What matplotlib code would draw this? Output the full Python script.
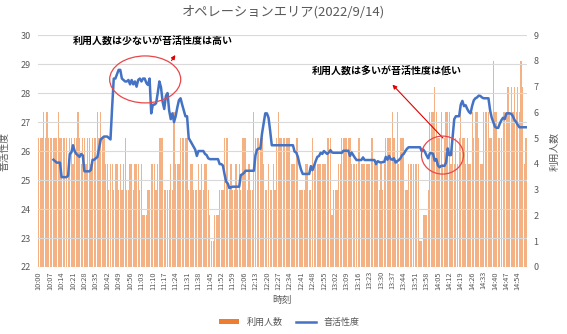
import numpy as np
import matplotlib
matplotlib.use("Agg")
import matplotlib.pyplot as plt
from matplotlib.patches import Ellipse, Patch
from matplotlib.lines import Line2D

plt.rcParams['font.family'] = ['Noto Sans CJK JP', 'DejaVu Sans']

# minutes from 10:00 (one category per minute)
minutes = list(range(300))
tick_minutes = list(range(0, 300, 7))
tick_labels = [f"{10 + m // 60}:{m % 60:02d}" for m in tick_minutes]

# 利用人数 (count per minute)
users = [
    5, 5, 5, 6, 5, 6, 5, 5, 5, 5,
    5, 5, 6, 5, 5, 5, 5, 5, 4, 5,
    5, 4, 5, 5, 6, 5, 4, 5, 5, 4,
    5, 5, 4, 5, 5, 5, 6, 5, 6, 5,
    5, 4, 4, 3, 4, 4, 3, 4, 4, 3,
    4, 3, 4, 5, 3, 3, 4, 4, 3, 4,
    4, 4, 3, 4, 2, 2, 2, 3, 3, 4,
    4, 4, 3, 4, 5, 5, 5, 3, 3, 3,
    3, 4, 3, 6, 4, 4, 4, 5, 5, 5,
    5, 5, 3, 4, 4, 3, 3, 3, 4, 3,
    4, 3, 4, 4, 3, 2, 1, 1, 2, 2,
    2, 3, 3, 3, 5, 5, 5, 3, 4, 3,
    3, 4, 3, 4, 3, 5, 5, 5, 3, 4,
    3, 3, 6, 5, 5, 5, 5, 5, 4, 3,
    3, 4, 3, 3, 4, 3, 5, 6, 5, 5,
    5, 5, 5, 5, 5, 4, 4, 4, 5, 5,
    3, 3, 3, 3, 4, 4, 3, 3, 5, 4,
    4, 4, 4, 4, 4, 4, 4, 5, 5, 5,
    2, 3, 3, 3, 4, 4, 5, 5, 5, 5,
    5, 5, 4, 4, 4, 4, 5, 5, 4, 4,
    4, 4, 4, 4, 5, 5, 4, 4, 4, 3,
    4, 3, 4, 5, 5, 5, 5, 6, 5, 4,
    6, 4, 5, 5, 5, 3, 3, 4, 4, 4,
    4, 4, 4, 4, 1, 1, 2, 2, 2, 3,
    6, 6, 6, 7, 6, 5, 5, 6, 4, 5,
    6, 6, 6, 4, 5, 4, 5, 4, 5, 6,
    5, 5, 4, 5, 4, 4, 6, 5, 6, 6,
    5, 4, 4, 6, 6, 6, 6, 5, 5, 8,
    6, 6, 5, 5, 5, 6, 6, 6, 7, 6,
    7, 6, 7, 6, 7, 6, 8, 7, 4, 5,
]

# 音活性度 (starts at 10:09)
nan = np.nan
activity = [
    nan, nan, nan, nan, nan, nan, nan, nan, nan, 25.7,
    25.65, 25.6, 25.6, 25.6, 25.1, 25.1, 25.1, 25.1, 25.15, 25.9,
    25.95, 26.2, 26.0, 25.9, 25.85, 25.8, 25.9, 25.85, 25.3, 25.3,
    25.3, 25.3, 25.35, 25.7, 25.7, 25.75, 25.8, 26.1, 26.4, 26.45,
    26.5, 26.5, 26.5, 26.45, 26.4, 27.5, 28.5, 28.5, 28.65, 28.8,
    28.8, 28.5, 28.45, 28.4, 28.4, 28.45, 28.3, 28.45, 28.3, 28.4,
    28.22, 28.45, 28.5, 28.4, 28.5, 28.5, 28.35, 28.28, 28.5, 27.3,
    27.6, 27.6, 27.65, 28.0, 28.4, 28.2, 27.7, 27.45, 27.9, 28.0,
    27.4, 27.1, 27.3, 27.0, 27.2, 27.5, 27.75, 27.82, 27.6, 27.4,
    27.2, 27.2, 26.45, 26.35, 26.25, 26.15, 26.05, 25.83, 26.0, 26.0,
    26.0, 26.0, 25.9, 25.86, 25.75, 25.72, 25.72, 25.72, 25.72, 25.72,
    25.72, 25.55, 25.55, 25.5, 25.2, 24.94, 24.88, 24.72, 24.75, 24.77,
    24.77, 24.77, 24.77, 24.77, 25.17, 25.2, 25.25, 25.32, 25.32, 25.32,
    25.32, 25.32, 25.32, 25.86, 26.05, 26.09, 26.08, 26.6, 26.95, 27.3,
    27.3, 27.15, 26.7, 26.2, 26.2, 26.2, 26.2, 26.2, 26.2, 26.2,
    26.2, 26.2, 26.2, 26.2, 26.2, 26.2, 26.2, 25.98, 25.95, 25.8,
    25.55, 25.35, 25.21, 25.21, 25.21, 25.21, 25.21, 25.48, 25.34, 25.5,
    25.66, 25.8, 25.83, 25.94, 25.9, 26.0, 25.95, 25.9, 25.95, 26.03,
    25.95, 25.94, 25.94, 25.94, 25.94, 25.94, 25.94, 26.01, 26.01, 26.01,
    26.01, 25.83, 25.95, 25.86, 25.77, 25.69, 25.69, 25.69, 25.69, 25.78,
    25.69, 25.69, 25.69, 25.69, 25.69, 25.69, 25.69, 25.55, 25.65, 25.62,
    25.6, 25.62, 25.62, 25.8, 25.7, 25.83, 25.72, 25.7, 25.75, 25.6,
    25.65, 25.69, 25.75, 25.86, 25.9, 26.0, 26.08, 26.13, 26.13, 26.13,
    26.13, 26.13, 26.13, 26.13, 26.13, 26.0, 26.05, 25.97, 25.85, 25.75,
    25.92, 25.93, 25.9, 25.67, 25.72, 25.5, 25.44, 25.49, 25.49, 25.49,
    25.6, 26.09, 25.86, 25.86, 26.5, 27.1, 27.2, 27.2, 27.2, 27.6,
    27.73, 27.55, 27.58, 27.45, 27.35, 27.3, 27.56, 27.75, 27.82, 27.85,
    27.91, 27.9, 27.85, 27.82, 27.82, 27.82, 27.82, 27.41, 27.15, 27.0,
    26.84, 26.8, 26.8, 26.95, 27.07, 27.15, 27.1, 27.3, 27.3, 27.3,
    27.28, 27.2, 27.07, 27.0, 26.9, 26.82, 26.82, 26.82, 26.82, 26.82,
]

gray = '#595959'
bar_color = '#F4B183'
line_color = '#4472C4'

fig = plt.figure(figsize=(5.67, 3.34), dpi=100)
ax_bar = fig.add_axes([0.067, 0.2006, 0.862, 0.6944])
ax_line = ax_bar.twinx()

# bars on the right axis
ax_bar.bar(minutes, users, width=0.75, color=bar_color, linewidth=0)
ax_bar.set_ylim(0, 9)
ax_bar.set_yticks(range(0, 10))
ax_bar.yaxis.tick_right()
ax_bar.yaxis.set_label_position('right')
ax_bar.set_xlim(-0.5, 299.5)
ax_bar.set_xticks(tick_minutes)
ax_bar.set_xticklabels(tick_labels, rotation=90, fontsize=5.3, color=gray)
ax_bar.set_xlabel('時刻', fontsize=7, color=gray, labelpad=4)

# line on the left axis
ax_line.plot(minutes, activity, color=line_color, lw=1.8, zorder=3)
ax_line.set_ylim(22, 30)
ax_line.set_yticks(range(22, 31))
ax_line.yaxis.tick_left()
ax_line.yaxis.set_label_position('left')
ax_line.grid(axis='y', color='#D9D9D9', lw=0.8, zorder=0)

ax_bar.set_ylabel('利用人数', fontsize=7, color=gray, labelpad=8)
ax_line.set_ylabel('音活性度', fontsize=7, color=gray, labelpad=8)

for a in (ax_bar, ax_line):
    for s in a.spines.values():
        s.set_visible(False)
    a.tick_params(length=0, labelsize=6.5, labelcolor=gray, pad=5)
ax_bar.tick_params(axis='x', labelsize=5.3, pad=3)

fig.suptitle('オペレーションエリア(2022/9/14)', x=0.5, y=0.985,
             fontsize=9.5, color=gray)

# annotations
ax_line.text(21, 29.76, '利用人数は少ないが音活性度は高い', fontsize=7.2,
             fontweight='bold', va='center', ha='left')
ax_line.add_patch(Ellipse((65.3, 28.47), 43.6, 1.62, fill=False,
                          edgecolor='#E8474A', lw=0.9, zorder=4))
ax_line.annotate('', xy=(84.8, 29.39), xytext=(80.5, 29.04),
                 arrowprops=dict(arrowstyle='-|>', color='#E00000', lw=0.8,
                                 mutation_scale=6))

ax_line.text(167.4, 28.73, '利用人数は多いが音活性度は低い', fontsize=7.2,
             fontweight='bold', va='center', ha='left')
ax_line.add_patch(Ellipse((247.8, 25.86), 25.8, 1.31, fill=False,
                          edgecolor='#E8474A', lw=0.9, zorder=4))
ax_line.annotate('', xy=(215.9, 28.36), xytext=(249.2, 26.38),
                 arrowprops=dict(arrowstyle='-|>', color='#E00000', lw=0.8,
                                 mutation_scale=6))

handles = [Patch(facecolor='#ED7D31', edgecolor='none'),
           Line2D([0], [0], color=line_color, lw=1.8)]
fig.legend(handles, ['利用人数', '音活性度'], loc='center',
           bbox_to_anchor=(0.51, 0.035), ncol=2, frameon=False,
           fontsize=6.5, labelcolor=gray, handlelength=2.2,
           handleheight=0.5, columnspacing=1.5)

fig.savefig('out.png', dpi=100)
